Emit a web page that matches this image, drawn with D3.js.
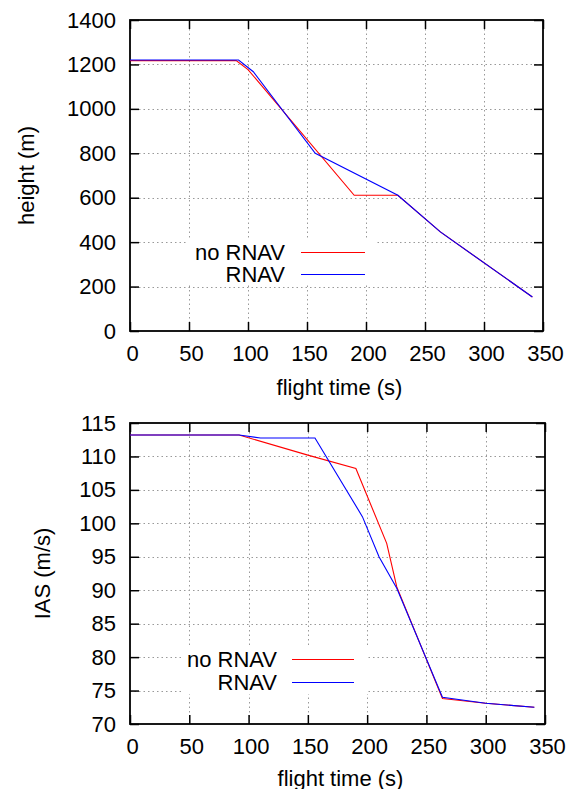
<!DOCTYPE html>
<html>
<head>
<meta charset="utf-8">
<script src="https://cdn.jsdelivr.net/npm/d3@7"></script>
<style>
  html, body { margin: 0; padding: 0; background: #fff; }
  svg { display: block; }
  text { font-family: "Liberation Sans", Arial, Helvetica, sans-serif; fill: #000; }
</style>
</head>
<body>
<svg id="chart" width="576" height="789"></svg>
<script>
// ---- data ----
const seriesNames = ["no RNAV", "RNAV"];
const seriesColors = ["#ff0000", "#0000ff"];

// top panel: height vs flight time
const timeNoRnavH = [0, 90, 100, 190, 227, 263, 341];
const heightNoRnav = [1217, 1217, 1177, 611, 611, 446, 153];
const timeRnavH = [0, 92, 104.5, 157, 227, 263, 341];
const heightRnav = [1220, 1220, 1167, 800, 611, 446, 153];

// bottom panel: IAS vs flight time
const timeNoRnavS = [0, 92, 150, 190.5, 216.5, 225, 263.5, 300, 341];
const iasNoRnav = [113.2, 113.2, 110.2, 108.2, 97.0, 90.5, 73.8, 73.1, 72.5];
const timeRnavS = [0, 92, 110, 156, 196, 210, 225, 263.5, 300, 341];
const iasRnav = [113.2, 113.2, 112.75, 112.75, 101, 95, 90.3, 74.0, 73.1, 72.5];

const xTicks = [0, 50, 100, 150, 200, 250, 300, 350];
const heightTicks = [0, 200, 400, 600, 800, 1000, 1200, 1400];
const iasTicks = [70, 75, 80, 85, 90, 95, 100, 105, 110, 115];

const xTitle = "flight time (s)";
const heightTitle = "height (m)";
const iasTitle = "IAS (m/s)";

// ---- drawing ----
const svg = d3.select("#chart");

function panel(cfg) {
  const g = svg.append("g");
  const x = d3.scaleLinear().domain([0, 350]).range([cfg.left, cfg.right]);
  const y = d3.scaleLinear().domain(cfg.yDomain).range([cfg.bottom, cfg.top]);

  // grid
  const grid = g.append("g").attr("stroke", "#999").attr("stroke-width", 1)
    .attr("stroke-dasharray", "1.5,3");
  grid.selectAll("line.gx").data(xTicks.slice(1, -1)).join("line")
    .attr("x1", d => Math.round(x(d)) + 0.5).attr("x2", d => Math.round(x(d)) + 0.5)
    .attr("y1", cfg.top).attr("y2", cfg.bottom);
  grid.selectAll("line.gy").data(cfg.yTicks.slice(1, -1)).join("line")
    .attr("y1", d => Math.round(y(d)) + 0.5).attr("y2", d => Math.round(y(d)) + 0.5)
    .attr("x1", cfg.left).attr("x2", cfg.right);

  // legend box (white, covers grid)
  g.append("rect").attr("x", cfg.legBox[0]).attr("y", cfg.legBox[1])
    .attr("width", cfg.legBox[2]).attr("height", cfg.legBox[3]).attr("fill", "#fff");

  // axes with inward ticks (mirrored)
  const tickLen = 9;
  const axB = d3.axisBottom(x).tickValues(xTicks).tickSize(-tickLen).tickPadding(14).tickFormat(d3.format("d"));
  const axT = d3.axisTop(x).tickValues(xTicks).tickSize(-tickLen).tickFormat("");
  const axL = d3.axisLeft(y).tickValues(cfg.yTicks).tickSize(-tickLen).tickPadding(14).tickFormat(d3.format("d"));
  const axR = d3.axisRight(y).tickValues(cfg.yTicks).tickSize(-tickLen).tickFormat("");

  function styleAxis(sel) {
    sel.select(".domain").remove();
    sel.selectAll(".tick line").attr("stroke", "#000").attr("stroke-width", 1.5);
    sel.selectAll("text").attr("font-size", 22).attr("font-family", "Liberation Sans, Arial, sans-serif").attr("fill", "#000");
  }
  g.append("g").attr("transform", `translate(0,${cfg.bottom})`).call(axB).call(styleAxis)
    .selectAll("text").attr("dx", 2);
  g.append("g").attr("transform", `translate(0,${cfg.top})`).call(axT).call(styleAxis);
  g.append("g").attr("transform", `translate(${cfg.left},0)`).call(axL).call(styleAxis);
  g.append("g").attr("transform", `translate(${cfg.right},0)`).call(axR).call(styleAxis);

  // frame
  g.append("rect").attr("x", cfg.left).attr("y", cfg.top)
    .attr("width", cfg.right - cfg.left).attr("height", cfg.bottom - cfg.top)
    .attr("fill", "none").attr("stroke", "#000").attr("stroke-width", 1.8);

  // series
  const line = d3.line().x(d => x(d[0])).y(d => y(d[1]));
  cfg.series.forEach((s, i) => {
    const pts = s.t.map((t, k) => [t, s.v[k]]);
    g.append("path").datum(pts).attr("d", line).attr("fill", "none")
      .attr("stroke", seriesColors[i]).attr("stroke-width", 1.1);
  });

  // legend
  seriesNames.forEach((name, i) => {
    const ly = cfg.legY[i];
    g.append("text").attr("x", cfg.legTextX).attr("y", ly).attr("dy", "0.35em")
      .attr("text-anchor", "end").attr("font-size", 22).text(name);
    g.append("line").attr("x1", cfg.legLine[0]).attr("x2", cfg.legLine[1])
      .attr("y1", ly + 0.5).attr("y2", ly + 0.5)
      .attr("stroke", seriesColors[i]).attr("stroke-width", 1.1);
  });

  // titles
  g.append("text").attr("x", (cfg.left + cfg.right) / 2 + 3).attr("y", cfg.xTitleY)
    .attr("text-anchor", "middle").attr("font-size", 22).text(xTitle);
  g.append("text").attr("transform", `translate(${cfg.yTitleX},${(cfg.top + cfg.bottom) / 2}) rotate(-90)`)
    .attr("dy", "0.35em").attr("text-anchor", "middle").attr("font-size", 22).text(cfg.yTitle);
}

panel({
  left: 130, right: 543, top: 20, bottom: 331,
  yDomain: [0, 1400], yTicks: heightTicks, yTitle: heightTitle,
  series: [{t: timeNoRnavH, v: heightNoRnav}, {t: timeRnavH, v: heightRnav}],
  legY: [252, 274], legTextX: 285, legLine: [301, 365],
  legBox: [186, 238, 191, 46],
  xTitleY: 395, yTitleX: 26
});

panel({
  left: 130, right: 545, top: 423, bottom: 724,
  yDomain: [70, 115], yTicks: iasTicks, yTitle: iasTitle,
  series: [{t: timeNoRnavS, v: iasNoRnav}, {t: timeRnavS, v: iasRnav}],
  legY: [659, 682], legTextX: 277, legLine: [292, 354],
  legBox: [184, 646, 184, 48],
  xTitleY: 786, yTitleX: 42
});
</script>
</body>
</html>
